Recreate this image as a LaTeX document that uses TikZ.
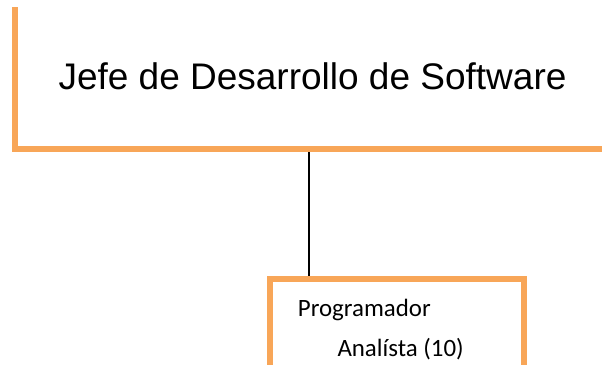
\documentclass[tikz,border=0pt]{standalone}
\usepackage{fontspec}
\setmainfont{Liberation Sans}
\newfontfamily\calib{Carlito}
\definecolor{borange}{RGB}{248,166,88}
\begin{document}
\begin{tikzpicture}[x=1pt,y=-1pt,
  obord/.style={draw=borange,line width=6pt,line join=miter,line cap=rect},
  conn/.style={draw=black,line width=1.8pt},
  toptext/.style={inner sep=0pt,anchor=base,font=\fontsize{37}{44}\selectfont},
  lowtext/.style={inner sep=0pt,anchor=base west,font=\calib\fontsize{24.9}{29}\selectfont}]
\useasboundingbox (0,0) rectangle (602,364);
\clip (0,0) rectangle (602,364);
\fill[white] (0,0) rectangle (602,364);
% top box (left and bottom edges visible)
\draw[obord] (15,10) -- (15,149) -- (640,149);
\node[toptext] (boss) at (312.5,89) {Jefe de Desarrollo de Software};
% bottom box
\draw[obord] (270.3,279.3) rectangle (523.7,420);
\node[lowtext] (prog) at (297.7,316) {Programador};
\node[lowtext] (anal) at (337.3,356) {Analísta (10)};
% connector
\coordinate (c1) at (309,152);
\coordinate (c2) at (309,276.3);
\draw[conn] (c1) -- (c2);
\end{tikzpicture}
\end{document}
